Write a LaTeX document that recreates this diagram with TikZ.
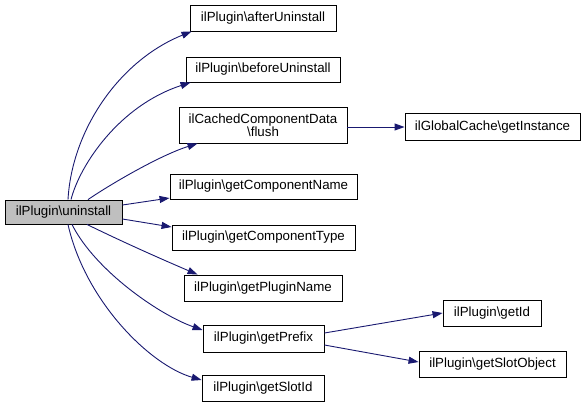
\documentclass[tikz,border=0pt]{standalone}
\usepackage{fontspec}
\setmainfont{Liberation Sans}
\usetikzlibrary{arrows.meta}
\definecolor{edgeblue}{HTML}{191970}
\definecolor{boxgray}{HTML}{BFBFBF}
\begin{document}
\begin{tikzpicture}[x=1pt,y=-1pt,
  fn/.style={draw=black,line width=0.9pt,fill=white,inner sep=0pt,align=center,
    font=\fontsize{13.3}{15}\selectfont},
  edge/.style={draw=edgeblue,line width=0.9pt,-{Triangle[length=10pt,width=7pt]}}]
\useasboundingbox (0,0) rectangle (585,408);
\node[fn,fill=boxgray,minimum width=117pt,minimum height=24pt] (u) at (63.5,212) {ilPlugin\textbackslash uninstall};
\node[fn,minimum width=146pt,minimum height=26pt] (after) at (263,18) {ilPlugin\textbackslash afterUninstall};
\node[fn,minimum width=154pt,minimum height=25pt] (before) at (263,69.5) {ilPlugin\textbackslash beforeUninstall};
\node[fn,minimum width=168pt,minimum height=36pt] (cached) at (263,125) {ilCachedComponentData\\[-2pt]\textbackslash flush};
\node[fn,minimum width=187pt,minimum height=25pt] (cname) at (263.5,186.5) {ilPlugin\textbackslash getComponentName};
\node[fn,minimum width=183pt,minimum height=25pt] (ctype) at (263.5,237.5) {ilPlugin\textbackslash getComponentType};
\node[fn,minimum width=158pt,minimum height=26pt] (pname) at (263,288) {ilPlugin\textbackslash getPluginName};
\node[fn,minimum width=121pt,minimum height=27pt] (prefix) at (263.5,338.5) {ilPlugin\textbackslash getPrefix};
\node[fn,minimum width=122pt,minimum height=26pt] (slotid) at (263,388) {ilPlugin\textbackslash getSlotId};
\node[fn,minimum width=175pt,minimum height=27pt] (gcache) at (492.5,127) {ilGlobalCache\textbackslash getInstance};
\node[fn,minimum width=98pt,minimum height=26pt] (getid) at (492,313) {ilPlugin\textbackslash getId};
\node[fn,minimum width=147pt,minimum height=26pt] (slotobj) at (492.5,364) {ilPlugin\textbackslash getSlotObject};

\draw[edge] ([xshift=4.5pt]u.north) .. controls +(4,-70) and +(-72,29) .. ([xshift=2pt]after.south west);
\draw[edge] ([xshift=7.5pt]u.north) .. controls +(9,-35) and +(-71,23) .. ([xshift=5pt]before.south west);
\draw[edge] ([xshift=24.5pt]u.north) .. controls +(22,-15) and +(-38,12) .. ([xshift=19pt]cached.south west);
\draw[edge] ([yshift=7pt]u.east) -- ([yshift=-11.5pt]cname.west);
\draw[edge] ([yshift=-7pt]u.east) -- ([yshift=10.5pt]ctype.west);
\draw[edge] ([xshift=23.5pt]u.south) .. controls +(43,21) and +(-28,-12) .. ([xshift=14pt]pname.north west);
\draw[edge] ([xshift=8.5pt]u.south) .. controls +(23,46) and +(-43,-15) .. ([yshift=8.5pt]prefix.west);
\draw[edge] ([xshift=4.5pt]u.south) .. controls +(17,76) and +(-52,-15) .. ([yshift=8pt]slotid.west);
\draw[edge] (cached.east |- gcache.west) -- (gcache.west);
\draw[edge] ([yshift=5.5pt]prefix.east) -- (getid.west);
\draw[edge] ([yshift=-6.5pt]prefix.east) -- ([yshift=2pt]slotobj.west);
\end{tikzpicture}
\end{document}
